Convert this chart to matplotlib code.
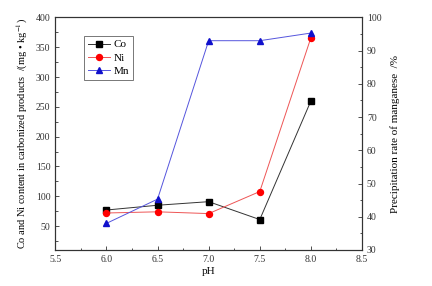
import matplotlib
matplotlib.use("Agg")
import matplotlib.pyplot as plt
from matplotlib.ticker import MultipleLocator

plt.rcParams['font.family'] = ['Liberation Serif', 'DejaVu Serif']
plt.rcParams['mathtext.fontset'] = 'stix'

# data
ph = [6.0, 6.5, 7.0, 7.5, 8.0]
co = [77, 85, 91, 61, 260]
ni = [72, 74, 71, 108, 366]
mn = [38, 45.3, 93, 93, 95.3]

fig = plt.figure(figsize=(4.32, 2.86), dpi=100)
ax = fig.add_axes([0.128, 0.126, 0.71, 0.813])
ax2 = ax.twinx()

l1, = ax.plot(ph, co, '-', color='#333333', lw=0.7, marker='s', ms=3.8,
              mfc='black', mec='black', label='Co')
l2, = ax.plot(ph, ni, '-', color='#ee5555', lw=0.7, marker='o', ms=4.3,
              mfc='red', mec='red', label='Ni')
l3, = ax2.plot(ph, mn, '-', color='#5555dd', lw=0.7, marker='^', ms=4.5,
               mfc='#1010cc', mec='#1010cc', label='Mn')

ax.set_xlim(5.5, 8.5)
ax.set_ylim(10, 400)
ax2.set_ylim(30, 100)

ax.xaxis.set_major_locator(MultipleLocator(0.5))
ax.xaxis.set_minor_locator(MultipleLocator(0.25))
ax.set_yticks([50, 100, 150, 200, 250, 300, 350, 400])
ax.yaxis.set_minor_locator(MultipleLocator(25))
ax2.yaxis.set_major_locator(MultipleLocator(10))
ax2.yaxis.set_minor_locator(MultipleLocator(5))

for a in (ax, ax2):
    a.tick_params(which='both', direction='in', labelsize=7, width=0.6, colors='#333333')
    a.tick_params(which='major', length=3)
    a.tick_params(which='minor', length=1.8)
    for s in a.spines.values():
        s.set_linewidth(0.8)
        s.set_color('#333333')
ax.tick_params(top=False, which='both')
ax.tick_params(axis='y', right=False, which='both')

ax.set_xlabel('pH', fontsize=8, labelpad=2)
ax.set_ylabel('Co and Ni content in carbonized products  /(mg • kg$^{-1}$)', fontsize=7.5, labelpad=4)
ax2.set_ylabel('Precipitation rate of manganese  /%', fontsize=8, labelpad=6)

leg = ax.legend(handles=[l1, l2, l3], loc='upper left', bbox_to_anchor=(0.075, 0.945),
                fontsize=8, frameon=True, fancybox=False, handlelength=2.0,
                borderpad=0.35, labelspacing=0.3, handletextpad=0.3)
leg.get_frame().set_edgecolor('#555555')
leg.get_frame().set_linewidth(0.7)

fig.savefig('out.png', dpi=100)
